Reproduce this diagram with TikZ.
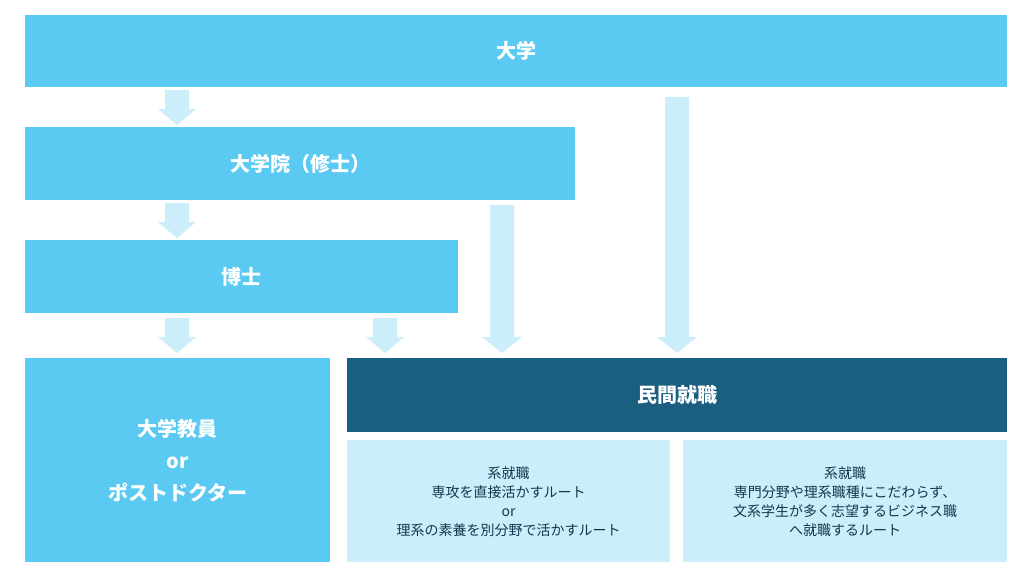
\documentclass[tikz,border=0pt]{standalone}
\usepackage{fontspec}
\setmainfont{Noto Sans CJK JP}
\usetikzlibrary{positioning}
\definecolor{skyblue}{HTML}{5BCAF2}
\definecolor{paleblue}{HTML}{CCEEFB}
\definecolor{navyblue}{HTML}{1A5E80}
\tikzset{
  bar/.style={fill=skyblue, text=white, font=\fontsize{20}{24}\selectfont\bfseries, inner sep=0pt, anchor=north west},
  darkbar/.style={bar, fill=navyblue},
  palebox/.style={fill=paleblue, text=navyblue!60!black, inner sep=0pt, anchor=north west, align=center, font=\fontsize{14}{19}\selectfont},
  title/.style={font=\fontsize{20}{24}\selectfont\bfseries}
}
% block arrow: centre x, top y, bottom y, shaft width, head width
\newcommand\blockarrow[5]{%
  \fill[paleblue] (#1-#4/2,#2) -- (#1+#4/2,#2) -- (#1+#4/2,#3-16) -- (#1+#5/2,#3-16)
    -- (#1,#3) -- (#1-#5/2,#3-16) -- (#1-#4/2,#3-16) -- cycle;}
\begin{document}
\begin{tikzpicture}[x=1pt,y=-1pt]
  \useasboundingbox[fill=white] (0,0) rectangle (1024,576);
  \node[bar, minimum width=982pt, minimum height=72pt] (univ) at (25,15) {大学};
  \node[bar, minimum width=550pt, minimum height=73pt] (master) at (25,127) {大学院（修士）};
  \node[bar, minimum width=433pt, minimum height=73pt] (phd) at (25,240) {博士};
  \node[bar, minimum width=305pt, minimum height=204pt, align=center,
        font=\fontsize{20}{32}\selectfont\bfseries] (acad) at (25,358) {大学教員\\or\\ポストドクター};
  \node[darkbar, minimum width=660pt, minimum height=74pt] (corp) at (347,358) {民間就職};
  \node[palebox, minimum width=323pt, minimum height=122pt] (sci) at (347,440)
    {{\title 理系就職}\\専攻を直接活かすルート\\or\\理系の素養を別分野で活かすルート};
  \node[palebox, minimum width=324pt, minimum height=122pt] (hum) at (683,440)
    {{\title 文系就職}\\専門分野や理系職種にこだわらず、\\文系学生が多く志望するビジネス職\\へ就職するルート};
  % arrows
  \blockarrow{177}{90}{125}{24}{38}
  \blockarrow{177}{203}{238}{24}{38}
  \blockarrow{177}{318}{353}{24}{38}
  \blockarrow{385}{318}{353}{24}{38}
  \blockarrow{502}{205}{353}{24}{40}
  \blockarrow{677}{97}{353}{24}{40}
\end{tikzpicture}
\end{document}
